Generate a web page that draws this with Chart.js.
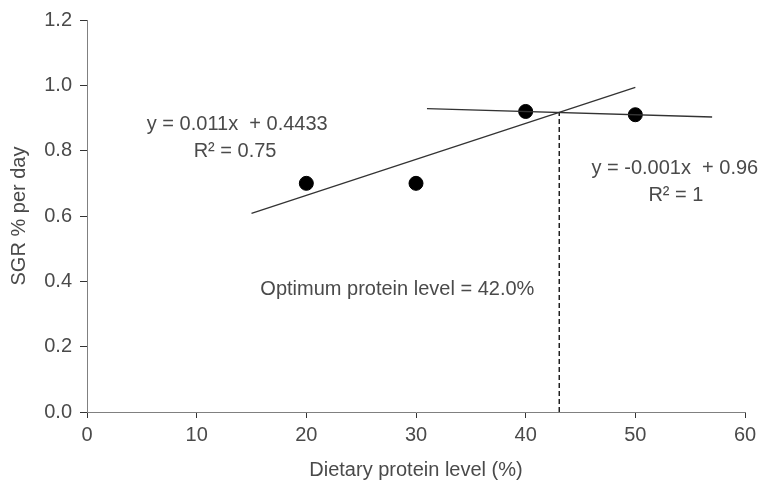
<!DOCTYPE html>
<html>
<head>
<meta charset="utf-8">
<script src="https://cdn.jsdelivr.net/npm/chart.js@4"></script>
<style>
  html, body { margin: 0; padding: 0; background: #fff; }
  #wrap { width: 765px; height: 480px; }
</style>
</head>
<body>
<div id="wrap"><canvas id="sgrChart"></canvas></div>
<script>
// measured points
var proteinLevel = [20, 30, 40, 50];      // dietary protein level (%)
var sgrValue = [0.70, 0.70, 0.92, 0.91];  // SGR % per day

// trend lines (end points)
var fitOneX = [15, 50];
var fitOneY = [0.608, 0.994];
var fitTwoX = [31, 57];
var fitTwoY = [0.929, 0.903];

// dashed optimum marker
var optimumX = [43.06, 43.06];
var optimumY = [0, 0.917];

// tick values
var xTicks = [0, 10, 20, 30, 40, 50, 60];
var yTicks = [0, 0.2, 0.4, 0.6, 0.8, 1.0, 1.2];

// text notes, placed in data units
var notes = [
  { text: "y = 0.011x  + 0.4433", x: 13.7, y: 0.880 },
  { text: "R\u00b2 = 0.75", x: 13.5, y: 0.797 },
  { text: "y = -0.001x  + 0.96", x: 53.6, y: 0.745 },
  { text: "R\u00b2 = 1", x: 53.7, y: 0.664 },
  { text: "Optimum protein level = 42.0%", x: 28.3, y: 0.376 }
];

function toPoints(xs, ys) {
  return xs.map(function (x, i) { return { x: x, y: ys[i] }; });
}

var textColor = "#4a4a4a";
var axisColor = "#808080";
var fontFamily = "'Liberation Sans', Arial, sans-serif";

// draws the equation notes
var notesPlugin = {
  id: "notes",
  afterDatasetsDraw: function (chart) {
    var ctx = chart.ctx;
    var xs = chart.scales.x, ys = chart.scales.y;
    ctx.save();
    ctx.fillStyle = textColor;
    ctx.font = "20px " + fontFamily;
    ctx.textAlign = "center";
    ctx.textBaseline = "middle";
    notes.forEach(function (n) {
      ctx.fillText(n.text, xs.getPixelForValue(n.x), ys.getPixelForValue(n.y));
    });
    ctx.restore();
  }
};

var lineStyle = {
  type: "line",
  showLine: true,
  pointRadius: 0,
  borderWidth: 1.3,
  fill: false
};

var sgrChart = new Chart(document.getElementById("sgrChart"), {
  type: "scatter",
  data: {
    datasets: [
      Object.assign({}, lineStyle, { label: "fit 1", data: toPoints(fitOneX, fitOneY), borderColor: "#333" }),
      Object.assign({}, lineStyle, { label: "fit 2", data: toPoints(fitTwoX, fitTwoY), borderColor: "#333" }),
      Object.assign({}, lineStyle, { label: "optimum", data: toPoints(optimumX, optimumY), borderColor: "#000", borderDash: [5, 3] }),
      {
        label: "SGR",
        data: toPoints(proteinLevel, sgrValue),
        backgroundColor: "#000",
        borderColor: "#000",
        pointRadius: 7,
        pointHoverRadius: 7
      }
    ]
  },
  options: {
    responsive: true,
    maintainAspectRatio: false,
    animation: false,
    layout: { padding: { top: 20, right: 20, left: 0, bottom: 0 } },
    plugins: { legend: { display: false }, tooltip: { enabled: false } },
    scales: {
      x: {
        type: "linear",
        min: 0,
        max: 60,
        afterBuildTicks: function (scale) { scale.ticks = xTicks.map(function (v) { return { value: v }; }); },
        afterFit: function (scale) { scale.height = 68; },
        grid: { drawOnChartArea: false, drawTicks: true, tickLength: 6, color: "#333" },
        border: { color: axisColor, width: 1 },
        ticks: { color: textColor, font: { size: 20, family: fontFamily }, padding: 5, maxRotation: 0 },
        title: { display: true, text: "Dietary protein level (%)", color: textColor, font: { size: 20, family: fontFamily, lineHeight: 1 }, padding: { top: 0, bottom: 0 } }
      },
      y: {
        type: "linear",
        min: 0,
        max: 1.2,
        afterBuildTicks: function (scale) { scale.ticks = yTicks.map(function (v) { return { value: v }; }); },
        afterFit: function (scale) { scale.width = 87; },
        grid: { drawOnChartArea: false, drawTicks: true, tickLength: 7, color: "#333" },
        border: { color: axisColor, width: 1 },
        ticks: {
          color: textColor,
          font: { size: 20, family: fontFamily },
          padding: 8,
          callback: function (v) { return Number(v).toFixed(1); }
        },
        title: { display: true, text: "SGR % per day", color: textColor, font: { size: 20, family: fontFamily, lineHeight: 1 }, padding: { top: 9, bottom: 0 } }
      }
    }
  },
  plugins: [notesPlugin]
});
</script>
</body>
</html>
